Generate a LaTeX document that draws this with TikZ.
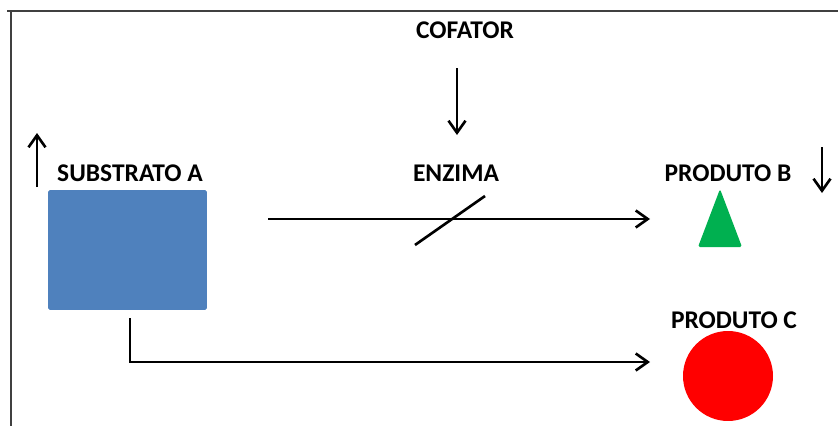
\documentclass[tikz,border=0pt]{standalone}
\usepackage{fontspec}
\setsansfont{Carlito}
\usetikzlibrary{arrows.meta, positioning}
\definecolor{boxblue}{RGB}{79,129,189}
\definecolor{trigreen}{RGB}{0,176,80}

\begin{document}
\begin{tikzpicture}[
  x=0.02cm, y=-0.02cm,
  lbl/.style={font=\sffamily\bfseries\fontsize{14.5}{16}\selectfont, inner sep=0pt},
  arr/.style={-{Straight Barb[length=2.4mm, width=3.4mm, line width=1.5pt]}, line width=1.5pt},
  frame/.style={draw=black!75, line width=1.6pt}
]
\useasboundingbox (0,0) rectangle (838,426);
\draw[frame] (7,11) -- (838,11);
\draw[frame] (11,11) -- (11,426);

\node[lbl] (cof) at (465,30) {COFATOR};
\node[lbl] (subA) at (130,173) {SUBSTRATO A};
\node[lbl] (enz) at (456,173) {ENZIMA};
\node[lbl] (prodB) at (728,173) {PRODUTO B};
\node[lbl] (prodC) at (734,320) {PRODUTO C};

\node[fill=boxblue, rounded corners=1pt,
      minimum width=3.18cm, minimum height=2.4cm, inner sep=0pt] (box) at (127.5,250) {};
\fill[trigreen, rounded corners=1pt] (720,189) -- (742,247) -- (698,247) -- cycle;
\node[circle, fill=red, minimum size=1.8cm, inner sep=0pt] (ball) at (728,376) {};

\coordinate (cofT) at (457,68);
\coordinate (cofB) at (457,135);
\coordinate (upB) at (37,187);
\coordinate (upT) at (37,133);
\coordinate (dnT) at (822,147);
\coordinate (dnB) at (822,193);
\coordinate (rxS) at (268,219);
\coordinate (rxE) at (650,219);
\coordinate (cor) at (130,362);
\coordinate (cxE) at (650,362);

\foreach \a/\b in {cofT/cofB, upB/upT, dnT/dnB, rxS/rxE} \draw[arr] (\a) -- (\b);
\draw[arr] (box.south -| cor) ++(0,8) -- (cor) -- (cxE);
\draw[line width=1.5pt] (415,245) -- (485,196);
\end{tikzpicture}
\end{document}
